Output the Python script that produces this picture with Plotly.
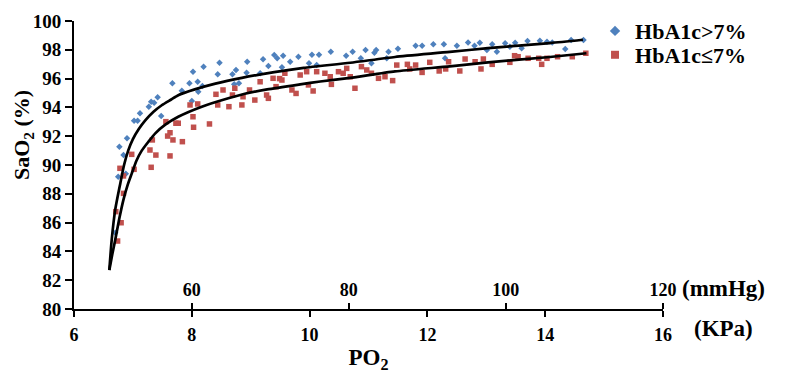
import plotly.graph_objects as go

# ---- data ----
blue_x = [6.70, 6.75, 6.88, 6.77, 6.84, 6.90, 7.02, 7.08, 7.12, 7.27, 7.31, 7.36, 7.42, 7.48,
          7.67, 7.83, 7.96, 8.00, 8.02, 8.10, 8.11, 8.18, 8.20, 8.44, 8.47, 8.69, 8.72, 8.75,
          8.80, 8.93, 8.94, 9.16, 9.21, 9.30, 9.40, 9.45, 9.53, 9.55, 9.67, 9.81, 9.99, 10.04,
          10.12, 10.16, 10.36, 10.62, 10.73, 10.87, 10.95, 11.05, 11.10, 11.13, 11.31, 11.34,
          11.50, 11.80, 11.91, 12.10, 12.28, 12.30, 12.50, 12.69, 12.80, 12.89, 13.01, 13.10,
          13.18, 13.32, 13.40, 13.49, 13.60, 13.70, 13.91, 14.03, 14.12, 14.34, 14.44, 14.65]
blue_y = [85.30, 89.19, 89.40, 91.27, 90.69, 91.85, 93.08, 93.08, 93.59, 94.05, 94.40, 94.33, 94.70, 93.40,
          95.67, 95.16, 95.67, 94.44, 96.48, 95.78, 95.09, 95.49, 96.83, 96.30, 97.10, 96.30, 95.60, 96.60,
          95.67, 96.41, 97.17, 96.37, 97.34, 96.88, 97.64, 97.41, 96.78, 97.59, 97.17, 97.52, 97.06, 97.66,
          96.94, 97.66, 97.87, 97.59, 97.87, 97.41, 97.99, 97.06, 97.80, 97.99, 97.41, 97.87,
          98.08, 98.28, 98.28, 98.38, 98.38, 97.41, 98.28, 98.51, 98.28, 98.49, 97.99, 98.38,
          97.87, 98.45, 98.22, 98.49, 98.10, 98.61, 98.63, 98.56, 98.51, 98.06, 98.68, 98.68]

red_x = [6.74, 6.71, 6.80, 6.84, 6.84, 6.78, 6.98, 7.02, 7.29, 7.31, 7.33, 7.39, 7.56, 7.59,
         7.63, 7.63, 7.68, 7.73, 7.77, 7.84, 7.97, 8.02, 8.03, 8.10, 8.30, 8.41, 8.44, 8.53,
         8.63, 8.69, 8.73, 8.85, 8.87, 8.98, 9.07, 9.16, 9.27, 9.30, 9.38, 9.43, 9.49, 9.53, 9.58,
         9.70, 9.77, 9.84, 9.95, 9.98, 10.06, 10.12, 10.26, 10.35, 10.37, 10.49, 10.57, 10.63,
         10.69, 10.77, 10.88, 10.97, 11.05, 11.17, 11.28, 11.41, 11.48, 11.66, 11.70, 11.80,
         11.91, 12.04, 12.20, 12.31, 12.36, 12.55, 12.64, 12.81, 12.91, 12.95, 13.10, 13.40,
         13.48, 13.54, 13.71, 13.89, 13.94, 14.03, 14.21, 14.46, 14.69]
red_y = [84.72, 86.76, 85.99, 88.03, 89.24, 89.77, 90.74, 89.70, 91.04, 89.84, 91.74, 90.69, 93.01, 92.01,
         92.24, 90.63, 91.74, 92.90, 92.90, 91.62, 94.17, 93.35, 92.62, 94.24, 92.85, 94.91, 94.17, 95.21,
         94.05, 94.86, 95.33, 94.17, 94.74, 95.21, 94.51, 95.78, 94.86, 94.63, 96.02, 95.44, 96.00, 95.90, 96.37,
         95.21, 94.97, 96.25, 96.48, 95.56, 95.14, 96.48, 96.37, 96.13, 95.60, 96.48, 96.37, 96.71,
         96.13, 95.33, 96.83, 96.60, 96.37, 96.02, 96.13, 95.86, 96.94, 96.99, 96.67, 96.94,
         96.43, 97.13, 96.53, 96.67, 97.17, 96.53, 97.36, 97.17, 96.67, 97.36, 96.99, 97.13,
         97.59, 97.52, 97.41, 97.41, 96.99, 97.41, 97.52, 97.52, 97.76]

# fitted curves
fit_hi_x = [6.60, 6.64, 6.70, 6.78, 6.85, 6.92, 7.00, 7.10, 7.21, 7.35, 7.49, 7.65, 7.77, 8.05,
            8.40, 8.85, 9.40, 9.90, 10.69, 11.45, 12.38, 13.03, 14.08, 14.64]
fit_hi_y = [82.7, 84.8, 86.9, 88.6, 90.0, 91.0, 91.8, 92.5, 93.1, 93.7, 94.15, 94.55, 94.85, 95.25,
            95.65, 96.05, 96.45, 96.75, 97.10, 97.50, 97.85, 98.12, 98.47, 98.70]
fit_lo_x = [6.60, 6.65, 6.70, 6.77, 6.84, 6.91, 6.98, 7.06, 7.15, 7.26, 7.38, 7.55, 7.77, 8.17,
            8.62, 8.90, 9.28, 9.84, 10.18, 10.69, 11.45, 12.38, 13.03, 14.08, 14.70]
fit_lo_y = [82.7, 83.8, 84.8, 86.3, 87.6, 88.6, 89.4, 90.3, 91.0, 91.6, 92.2, 92.8, 93.35, 94.05,
            94.63, 94.95, 95.25, 95.60, 95.80, 96.05, 96.50, 96.85, 97.13, 97.50, 97.76]

kpa_ticks = [6, 8, 10, 12, 14, 16]
mmhg_ticks = [60, 80, 100, 120]
y_ticks = [80, 82, 84, 86, 88, 90, 92, 94, 96, 98, 100]
legend_names = ["HbA1c>7%", "HbA1c≤7%"]
KPA_TO_MMHG = 7.50062

BLUE = "#4F81BD"
RED = "#C0504D"
FONT = "Liberation Serif, Times New Roman, serif"


def bold(v):
    return "<b>%s</b>" % v


fig = go.Figure()
fig.add_trace(go.Scatter(x=blue_x, y=blue_y, mode="markers", showlegend=False,
                         marker=dict(symbol="diamond", size=5, color=BLUE)))
fig.add_trace(go.Scatter(x=red_x, y=red_y, mode="markers", showlegend=False,
                         marker=dict(symbol="square", size=5.5, color=RED)))
fig.add_trace(go.Scatter(x=fit_hi_x, y=fit_hi_y, mode="lines", showlegend=False,
                         line=dict(color="black", width=2.7, shape="spline", smoothing=0.6)))
fig.add_trace(go.Scatter(x=fit_lo_x, y=fit_lo_y, mode="lines", showlegend=False,
                         line=dict(color="black", width=2.7, shape="spline", smoothing=0.6)))
# legend entries (one legend each so the rows can sit as close as in the reference)
fig.add_trace(go.Scatter(x=[None], y=[None], mode="markers", name=bold(legend_names[0]),
                         legend="legend",
                         marker=dict(symbol="diamond", size=8, color=BLUE)))
fig.add_trace(go.Scatter(x=[None], y=[None], mode="markers", name=bold(legend_names[1]),
                         legend="legend2",
                         marker=dict(symbol="square", size=8, color=RED)))
# mmHg companion axis (invisible helper trace)
fig.add_trace(go.Scatter(x=[None], y=[None], xaxis="x2", showlegend=False))

leg_font = dict(family=FONT, size=22, color="black")
# the page body adds an 8px margin, so the figure is 8px smaller than the window
fig.update_layout(
    width=777, height=373,
    margin=dict(l=66, r=122, t=13, b=72, autoexpand=False),
    paper_bgcolor="white", plot_bgcolor="white",
    font=dict(family=FONT, color="black"),
    showlegend=True,
    legend=dict(x=0.8846, y=0.965, xanchor="left", yanchor="middle",
                font=leg_font, bgcolor="rgba(0,0,0,0)"),
    legend2=dict(x=0.8846, y=0.882, xanchor="left", yanchor="middle",
                 font=leg_font, bgcolor="rgba(0,0,0,0)"),
    xaxis=dict(range=[6, 16], tickvals=kpa_ticks, ticktext=[bold(v) for v in kpa_ticks],
               automargin=False,
               showgrid=False, zeroline=False, showline=True, linecolor="black", linewidth=2,
               ticks="outside", ticklen=6, tickwidth=2, tickcolor="black",
               ticklabelstandoff=2,
               tickfont=dict(family=FONT, size=18, color="black"),
               title=dict(text=bold("PO<sub>2</sub>"), standoff=5,
                          font=dict(family=FONT, size=23, color="black"))),
    xaxis2=dict(range=[6 * KPA_TO_MMHG, 16 * KPA_TO_MMHG], overlaying="x", anchor="free",
                position=0, side="top", tickvals=mmhg_ticks,
                ticktext=[bold(v) for v in mmhg_ticks], automargin=False,
                showgrid=False, zeroline=False, showline=False,
                ticks="outside", ticklen=6, tickwidth=2, tickcolor="black",
                ticklabelstandoff=0,
                tickfont=dict(family=FONT, size=18, color="black")),
    yaxis=dict(range=[80, 100], tickvals=y_ticks, ticktext=[bold(v) for v in y_ticks],
               automargin=False,
               showgrid=False, zeroline=False, showline=True, linecolor="black", linewidth=2,
               ticks="outside", ticklen=7, tickwidth=2, tickcolor="black",
               tickfont=dict(family=FONT, size=19, color="black")),
    annotations=[
        dict(text=bold("SaO<sub>2</sub> (%)"), xref="paper", yref="paper", x=-0.0866, y=0.604,
             xanchor="center", yanchor="middle", textangle=-90, showarrow=False,
             font=dict(family=FONT, size=22, color="black")),
        dict(text=bold("(mmHg)"), xref="paper", yref="paper", x=1.029, y=0.072,
             xanchor="left", yanchor="middle", showarrow=False,
             font=dict(family=FONT, size=23, color="black")),
        dict(text=bold("(KPa)"), xref="paper", yref="paper", x=1.049, y=-0.066,
             xanchor="left", yanchor="middle", showarrow=False,
             font=dict(family=FONT, size=23, color="black")),
    ],
)

fig.write_html("out.html")
